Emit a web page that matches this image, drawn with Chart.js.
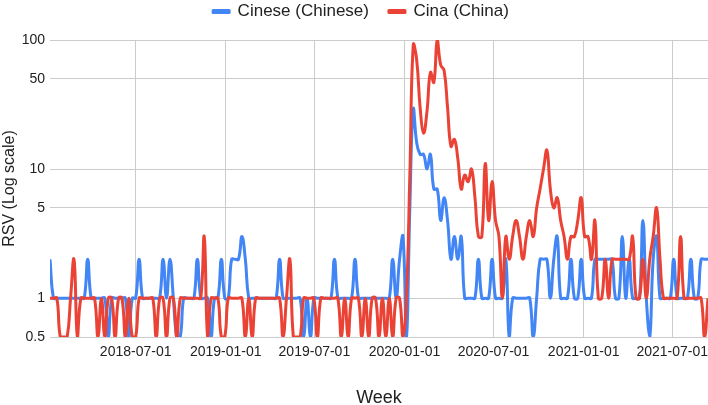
<!DOCTYPE html>
<html>
<head>
<meta charset="utf-8">
<script src="https://cdn.jsdelivr.net/npm/chart.js@4.4.0/dist/chart.umd.min.js"></script>
<style>
    html, body { margin: 0; padding: 0; background: #fff; }
</style>
</head>
<body>
<canvas id="rsvChart" width="708" height="405"></canvas>
<script>
const firstWeek = '2018-01-07';
const xTickDates = ['2018-07-01', '2019-01-01', '2019-07-01', '2020-01-01', '2020-07-01', '2021-01-01', '2021-07-01'];
const yTicks = [0.5, 1, 5, 10, 50, 100];
const seriesNames = ['Cinese (Chinese)', 'Cina (China)'];

// weekly RSV, one value per week from firstWeek
const cinese = [
    2, 1, 1, 1, 1, 1, 1, 1, 1, 1,
    1, 2, 1, 1, 1, 1, 1, 0, 1, 1,
    1, 1, 1, 0, 1, 1, 2, 1, 1, 1,
    1, 1, 1, 2, 1, 2, 1, 0, 0, 1,
    1, 1, 1, 2, 1, 1, 1, 0, 1, 1,
    2, 1, 1, 2, 2, 2, 3, 2, 1, 1,
    1, 1, 1, 1, 1, 1, 1, 2, 1, 1,
    1, 1, 1, 1, 0, 1, 0, 1, 1, 1,
    1, 1, 1, 2, 1, 1, 1, 1, 1, 2,
    1, 1, 1, 1, 1, 1, 1, 1, 1, 1,
    2, 1, 2, 3, 0, 5, 29, 16, 13, 13,
    10, 13, 7, 7, 4, 6, 4, 2, 3, 2,
    3, 1, 1, 1, 1, 2, 1, 1, 1, 2,
    1, 1, 1, 2, 0, 1, 1, 1, 1, 1,
    1, 0, 1, 2, 2, 2, 1, 2, 3, 1,
    1, 1, 2, 1, 1, 2, 1, 1, 1, 2,
    2, 2, 2, 2, 2, 1, 1, 3, 1, 2,
    1, 1, 1, 4, 1, 0, 2, 3, 1, 1,
    1, 1, 2, 1, 1, 1, 1, 2, 1, 1,
    2, 2, 2
];

const cina = [
    1, 1, 1, 0, 0, 0, 1, 2, 0, 1,
    1, 1, 1, 1, 0, 1, 0, 1, 1, 0,
    1, 1, 0, 1, 0, 0, 1, 1, 1, 1,
    1, 0, 1, 1, 0, 1, 1, 0, 1, 1,
    1, 1, 1, 1, 1, 3, 0, 1, 1, 1,
    0, 0, 1, 1, 1, 1, 1, 0, 1, 0,
    1, 1, 1, 1, 1, 1, 1, 1, 0, 1,
    2, 0, 0, 0, 1, 1, 1, 1, 0, 1,
    1, 1, 1, 1, 1, 0, 1, 0, 1, 1,
    1, 0, 1, 0, 1, 1, 0, 1, 0, 1,
    0, 1, 1, 0, 1, 9, 92, 70, 30, 19,
    28, 56, 47, 100, 64, 58, 30, 15, 17, 12,
    7, 9, 8, 10, 6, 3, 3, 11, 4, 8,
    4, 3, 1, 3, 2, 3, 4, 3, 2, 3,
    4, 3, 5, 7, 10, 14, 7, 5, 6, 4,
    3, 2, 3, 3, 4, 6, 3, 3, 2, 4,
    1, 1, 2, 1, 2, 2, 2, 2, 2, 2,
    3, 1, 1, 2, 1, 2, 3, 5, 2, 1,
    1, 1, 1, 1, 3, 1, 1, 1, 1, 1,
    1, 0, 1
];

const FONT = "'Liberation Sans', Arial, sans-serif";
const TEXT = '#222222';
const GRID = '#cccccc';
const DAY_MS = 86400000;

function dayOf(dateStr) {
    return (Date.parse(dateStr) - Date.parse(firstWeek)) / DAY_MS;
}

// zero weeks cannot sit on a log axis, so they rest on its floor
function toPoints(values) {
    return values.map((v, i) => ({ x: i * 7, y: v > 0 ? v : yTicks[0] }));
}

const legendPlacement = {
    id: 'legendPlacement',
    beforeInit(chart) {
        const fit = chart.legend.fit;
        chart.legend.fit = function () {
            fit.call(this);
            this.height = 40;
        };
    },
    beforeDraw(chart) {
        chart.legend.top = -17;
        chart.legend.left = 7;
        chart.legend.right = 715;
    }
};

Chart.defaults.font.family = FONT;

new Chart(document.getElementById('rsvChart'), {
    type: 'line',
    data: {
        datasets: [
            {
                label: seriesNames[0],
                data: toPoints(cinese),
                borderColor: '#4285f4',
                backgroundColor: '#4285f4',
                order: 1
            },
            {
                label: seriesNames[1],
                data: toPoints(cina),
                borderColor: '#ea4335',
                backgroundColor: '#ea4335',
                order: 0
            }
        ]
    },
    options: {
        responsive: false,
        animation: false,
        layout: { padding: 0 },
        elements: {
            line: { borderWidth: 3, tension: 0.45, borderJoinStyle: 'round' },
            point: { radius: 0, hoverRadius: 0 }
        },
        plugins: {
            legend: {
                position: 'top',
                labels: {
                    boxWidth: 16,
                    boxHeight: 2,
                    padding: 20,
                    color: TEXT,
                    font: { size: 17 },
                    sort: (a, b) => a.datasetIndex - b.datasetIndex
                }
            },
            tooltip: { enabled: false }
        },
        scales: {
            x: {
                type: 'linear',
                min: 0,
                max: (cinese.length - 1) * 7,
                afterBuildTicks: (scale) => {
                    scale.ticks = xTickDates.map((d) => ({ value: dayOf(d) }));
                },
                afterFit: (scale) => {
                    scale.height = 68;
                    scale.paddingLeft = 0;
                    scale.paddingRight = 0;
                },
                ticks: {
                    autoSkip: false,
                    maxRotation: 0,
                    padding: 7,
                    color: TEXT,
                    font: { size: 14 },
                    callback: (value, i) => xTickDates[i]
                },
                grid: { color: GRID, drawTicks: false },
                border: { display: false },
                title: {
                    display: true,
                    text: 'Week',
                    color: TEXT,
                    font: { size: 18 },
                    padding: { top: 0, bottom: -4 }
                }
            },
            y: {
                type: 'logarithmic',
                min: yTicks[0],
                max: yTicks[yTicks.length - 1],
                afterBuildTicks: (scale) => {
                    scale.ticks = yTicks.map((v) => ({ value: v }));
                },
                afterFit: (scale) => {
                    scale.width = 50;
                },
                ticks: {
                    padding: 5,
                    color: TEXT,
                    font: { size: 14 },
                    callback: (value) => String(value)
                },
                grid: { color: GRID, drawTicks: false },
                border: { display: false },
                title: {
                    display: true,
                    text: 'RSV (Log scale)',
                    color: TEXT,
                    font: { size: 16 },
                    padding: { top: 0, bottom: 0 }
                }
            }
        }
    },
    plugins: [legendPlacement]
});
</script>
</body>
</html>
